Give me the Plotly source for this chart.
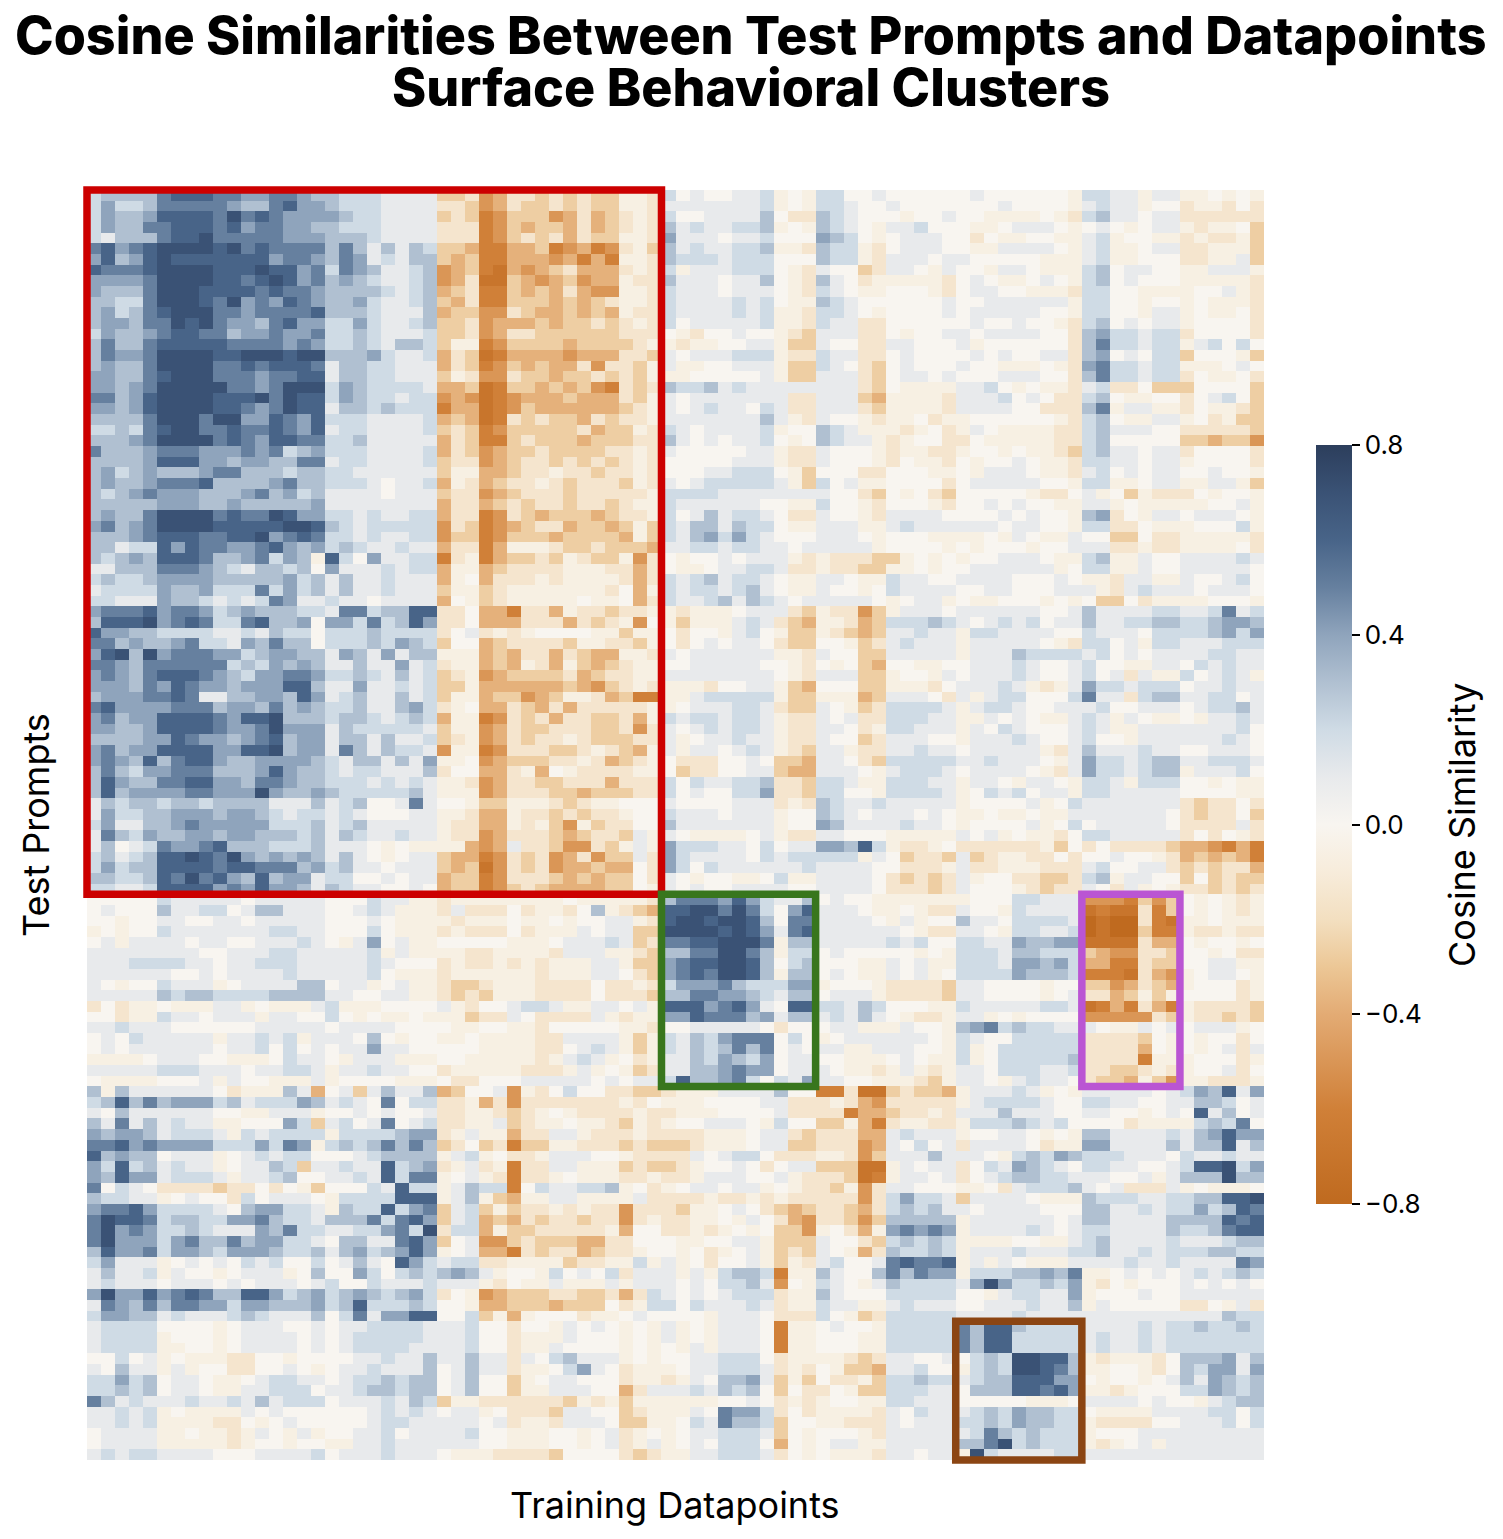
import plotly.graph_objects as go

# cell levels, one string per test prompt (row), one char per datapoint (column)
# digits 0-8 = positive, letters a-h = negative, see pos_levels / neg_levels
rows_top = [
    "23333 5666 55445543 32221111 ccb ed bbcbcbcc aab 20100112a0a 2200100000 01000000a 2211a11 aa0a0a",
    "24223 5555 54335644 32221111 bbc ed bccbcbcc aab 11111112a0a 2210010000 00010000a 1211a00 baab0b",
    "24334 6666 57565444 43221111 cbc fe cccedbdc bab 200111130bb 321000a001 00aaaa0ab 2311011 bbbbbb",
    "24335 5666 56455443 32221111 bbb fe cdccdbdc bab 31211223a0a 3210a11200 0aa01110a 010a011 abaa0c",
    "21333 5667 55555444 33321111 bbb fe cbcbdbcc aab 41110112000 4320a01110 0b0aa00aa 12a00aa babbac",
    "56456 7777 67565555 35313132 ccd ff ddcfedfe bac 31211223aab 322ab01110 0aa11110a 12aa011 bbaaac",
    "46346 7666 66664554 35412133 cdc ff dddedfdf aab 32221222000 322ab11101 100000aaa 12aa000 bbaa1c",
    "65556 7777 66676645 25431123 edc fg dedcbddd bab 2a1112220ab 100cb110a1 00a110aaa 2301100 aa111a",
    "44445 7777 66567645 34321123 edb gg cdedcedd abb 311101130ab 310baaaaab 010aa010a 2301000 aaaaab",
    "43335 7776 66656554 33332123 dcb ff cdcdbdee aab 211101110ab 210aa000ab 01100aaab 2200aaa a001ab",
    "33225 7776 57454654 33421123 cdb ff cccdcdcb aab 211112120aa 3210000001 00111111a 2200a00 a0aaab",
    "34235 6777 55455556 33321113 dcc ee bcddcdcd abb 21111212aab 2210a00001 01111100a 2200a11 a0aa0b",
    "34435 5767 54435644 22421123 ccb ed ddcdccbc bab 20111112aab 211bb00000 0100100ab 2301011 a0000b",
    "24334 5665 53445445 22321112 ccb ed bbcccccc bbb 0ab00100abc 111bb0a001 10111100b 3422122 b0000b",
    "35335 6666 65555454 22321332 caa fe ccccdccc cba abaa0011acc 100bb11000 1a000000b 3522122 a12020",
    "35445 7777 66777677 33342112 dbc gf ddddeddd bbc 10111222abb 211bb01000 01010011b 3401022 c000ac",
    "34335 7777 55656665 13322111 dbc fe cdcddbeb bca 1aa00111acc 210bc01000 100aaa0ab 4522122 aaa010",
    "44335 6777 55545566 13322111 cab ee bccdccbc bca aa000001acc 111bc01101 00011100b 3522122 b0aa0b",
    "44345 7777 75545777 24322221 ddc gf ccdcdcef bcb 32231211111 111bc0aaaa 1120a0aab 12bb0cc c0000c",
    "55346 7777 66675766 24322122 ede gf edddcddd bca 101111111bb 111cdaaaab 1112010bb 230aa00 b0120c",
    "44346 7777 66545766 13323222 fdd gf ecdddddd cba 101211021bb 111bcaaaab 111100bbb 35a11aa b0aabc",
    "33335 7775 77446546 22211112 dcd gf bcbccdbc bba 111111131ab 100abaa0ba a000000ab 230aa11 a0bacc",
    "22325 6775 56556546 12211112 cbc fe cccccbdc cab 21011112a00 321aaaba0b a10aaaabb 2311100 bbbbbc",
    "33345 7777 56546655 22311111 dbc ff cbcccdcc cbb 310101120a0 3211aba00b b0aaaaabb 2300000 ccdcce",
    "53334 5554 44545234 22211112 dbc ed ccbccccb bab 10000011abb 1000abaabb a00a0aabc 2311011 b0000b",
    "33334 6664 43443355 12211112 cbb ed cbbcbcbc bab 00000111abb 1000ab0aab 0a0010aab 2211011 a0000b",
    "34234 3334 55333233 22111111 caa dd cbbabbcb bab 000112220ac 000bb000aa 0a1110aab 1201011 00100a",
    "34334 5556 33334533 22210112 dab dc bbabcbbb cab 101222221ac 201aa0000b 01111100a 22aa011 aa11ac",
    "32345 4443 33453423 11110111 cbb ed cbbbcbbb bba 22221111111 100bc0a0bc 00000abb0 1a0cabb b0a00a",
    "33333 4443 34333334 11111111 dbb dc bcbbcbbc baa 211111100aa 200ab000ab 0010100aa 11a0aaa aa001a",
    "34335 7777 56557644 22121122 dbb fe bcdcccdc bba 201312210bb 100ab11110 00010100a 34b0a11 01110a",
    "45345 7777 66666776 32122222 ebc fe dcbbdccd cac 213313220aa 111aa12111 11101100a 22bb0aa a0002a",
    "33345 6665 56674565 22121122 ecc fe cccdcccc dac 21342421000 1110a000aa aa0a10aa1 00cc0bb aaaaab",
    "33122 6465 54456434 23211211 dbb fd aaabccbc ccd 11221221101 1111a0000a 0a000a001 11bbabb aaaa0b",
    "32343 6665 3345243a 62041122 fba fd ccbcabcc aeb 0a0010111ab abbbcca0a0 a001110aa 23aa100 111121",
    "11333 5554 32133230 41112122 daa dc bbbbaaab bdb 0aa011221bb abbccaa0a0 0111111a0 22aa100 111110",
    "23223 4444 33333423 13112111 da0 db bbabaaaa bdb 212312210aa 110aa21100 111100010 aab11aa 100120",
    "12222 4334 22252423 13112111 caa cb aaaaaaab 0da 212212310aa 100a021111 001100011 1ab1211 101110",
    "22111 4332 12125411 21101111 d0a cb aaaaa0aa 0db 21123132101 11110a011a 0aa000a0a 0cc0baa aa000a",
    "45556 4554 23433322 15523366 bb0 dd fbbdabbc bba abaaa0111bc abbeca1110 111111001 3111122 112512",
    "36667 4565 22563340 44252364 bb0 dd dbbbdbcb ae0 acaaa121bcd aabdc22232 101212011 3112233 223443",
    "64433 2222 11213220 22232222 b01 ba ba0000aa caa 0b00a120acc abcdc11211 a22111100 2111022 223424",
    "55343 3452 21435330 22232432 c00 dc bbbbcaab bca 0b010110bcc 00acb12111 a111110ab 2201a22 111222",
    "46737 4555 44234433 14314133 aaa dc dbbdbcdd aab 10111111aab 100cc11111 a11132222 1201011 112211",
    "55435 5555 52324343 11311412 baa dc dabdacdc baa 001111100ab 0a0cd00aa0 011121001 200aa11 021211",
    "45435 6665 43244554 22321312 cba ed ccccbdcb baa 111111110ab 111cca00a1 011121001 201b1aa 20121a",
    "44435 4654 43444663 11411212 cca dd ddddcdec bab aaab0011acd 000ccaaab0 11121aba1 4221222 011211",
    "34445 5651 13344364 12311312 caa dc cedcaabd cff aa122222acc aaadc1110b 1a1220002 511b233 112201",
    "56444 4555 34435343 22311342 ba0 dd bcdbdbbb bba a0111221bcc 10acb22221 a12210011 1200111 012231",
    "45344 6666 54667333 23321232 daa fe bcbdbbcc bda 21221221abb 101bb22211 aa1010aa1 21a10aa 0a1121",
    "44334 6666 54457444 13222221 caa ed bccbbbcc beb 10121221abb 110ba22111 a10210001 21aa111 111120",
    "33334 4654 43456344 13313112 cba ed bcbbabcc cbb 1a011211abb 100cb11100 a11121001 200a111 111210",
    "45344 6666 44667344 15313221 eaa fe bbbccbab cda 1a110121abc 11abb11211 011111ab1 3111211 001110",
    "45436 3566 43344443 21331314 aa0 ed cccbbabd cba 0bbb0010ccd 110bc22222 1121110a1 4221233 112221",
    "35324 4555 33346433 21221113 b00 dd bad0abbb baa 0cbb0011cdd 1110a12221 011110ab1 4221233 a11120",
    "36433 5566 44355433 22212121 aab ed bbccbbbd bbb 20211223bbc 221aa22211 a110a110a 221a222 00a0aa",
    "36344 4455 44474334 32222231 aaa ed bbbccdcc cbb 20100224bbc 2200a22221 a0212011a 2211111 0000aa",
    "13233 2332 33331113 12300151 00a cc aaabcbaa 000 10000111bab 3211211111 a00001a02 1111111 bcbb0b",
    "14223 3444 34432122 12100011 aab dd abbcbcbb a00 21110111a00 3210111010 aa0aa0aa1 1111110 bcbb0c",
    "24113 3454 44442223 12311111 abb dd abaceacb b00 31111111a00 4311112110 a00001a02 0111110 bbbb1b",
    "15324 3344 34433323 13211211 abb ed bbbcdcbb c1a 10aaaa01abb 11000aaaaa 101a0aab0 2211111 b0b0ab",
    "13012 5445 63332223 1110a0aa aad ed 1bbceebc a1a 42221102011 44362abba0 bbbbbbac0 b0bbbbc ddefdf",
    "23123 6676 57434343 1310a011 cdd fe bcbedbec c1b 42111102122 222a10cbbc 1cbaabb0b 00100ab dcdcdf",
    "24233 6666 56655534 23110111 cdc ge bcbeddcd d0b 42021111112 111100bbba 1bbaaabbb 120011b cbcbbd",
    "33223 6575 64363441 22001011 dcc fe bbbcdcdc c0b 10a00aa02aa 11110bcbcb 1a00bbccb 23a1100 c0cbcc",
    "22112 6666 45464431 32110010 dcc fe cbcddddc c0a 10100111100 11110bbbcb 1000abcbb 10b1a0a bbcbcb",
]

rows_mid = [
    "00000 2111 11011111 000211aa baa aa aaaa0aaa aab 35554642113 0100aaaaaa a00022111 eeefcec 0a0aba",
    "01000 3112 20133111 00121aaa b1b bb 0baab03a bcd 66775752046 1110aa0abb 100a21111 gfggbfc 0a0aba",
    "00a00 1100 11011111 00010aaa aba aa 0aa0a001 1ab 67767763055 11110a1a00 311022221 hghhbfg aa0aaa",
    "a0a00 2111 11112211 00020aaa bab bb 0baaa101 1cc 77776764156 1111110abb 110a22112 hghhcff abbabb",
    "01a11 1101 10011121 0a1401aa 000 00 aaa01112 1cb 55667775a33 1111121200 221143344 ggggbdd 0a00a0",
    "11111 1110 01112211 1112a1aa aab ba aaab111a abc 33557753a22 0100000a0a 222133222 cdeebbc 00a0bb",
    "11122 2211 01122211 11121000 bab ba babaaa11 acc 45667763023 000aa101aa 222144342 ddffbcc 0011aa",
    "11111 1001 01111211 11120aaa baa aa aabaaa11 0bc 45657763a33 010aa101a0 222243332 fffgbde a0110a",
    "10a00 2111 a0111133 011a01aa bcc ba aabbbb0b bab 24445322244 a000abbbbc 110000a00 ccedbcd a000ba",
    "11111 3233 22223333 110011aa bcb ca aabbbb0b bbc 33554432133 0111abbbbc 110000a01 bbdcaca 0000ba",
    "b0baa 0aaa 11a0aaa1 2aaa0000 1ab 00 1221aa11 01a 66645641066 2213200 0aa 211111221 gfdfbdf abbbbc",
    "00baa 2110 111a1100 20a0aa0a aac bb 10bbbb1a baa 44655534133 121310abba 11a0a0000 eeeeebc abbcbc",
    "11211 1000 00011111 01111000 0aa 00 aab00000 aab 00111110b00 011aaa100a 345232211 10aa101 0111a0",
    "01021 1111 a11212a1 11030a00 aa0 aa aabb1111 aca 21324555020 a01111110a 210022222 bbbbc0a 0a00b0",
    "01011 1111 01120201 01141100 000 aa aabb0121 aca 21323535010 11aa11100a 2a0222222 bbbbd0a 0a01b1",
    "aaaa0 1110 0aaa0211 0a111aaa 00a aa aaba121a 0ba 11324324011 00aaa010aa 2a0222223 bbbbfaa a000ba",
    "11111 2221 11011221 a1121100 baa aa abbba1a0 acb 11334544011 10aaba1aba 110222112 bbccbab a001b0",
    "0aaaa 0001 a100aaa1 a0000aaa 0bb 00 01111101 011 26334520214 1100aaabca 110a12110 bccdace aabbba",
]

rows_low = [
    "3a311 1111 0baaa31d 01c13113 dc0 01 eab0200b bcc baaa1111300 ffbggcbccd a11121a0a 1111101 243614",
    "23635 3444 23122243 12105022 bba db ebbbbbbb ab0 aaa000011bb babdebbbbb a12222100 2211001 133201",
    "10311 1111 00aa111a 00101001 bba ab cba0abbb bab baaa00001bb bbfddcbbab 111311100 1100a01 061301",
    "31513 1211 aa00042c 12015012 bba a1 cbaa0aab cab a001110a200 ccadfbaabb a22232120 000baaa a23250",
    "43443 1222 1a212222 a2222344 ba1 aa dbb11abb bab bbbaaa011bc bbbdd12111 a00110a0a 3311112 134644",
    "55645 4444 2224254a 23235353 cb0 cb fccaabbb cbc ccbaaa011cc bbbed10201 b11110baa 4411113 133613",
    "63433 0111 a0121220 00123333 a12 a0 bba11100 abb bb101220bbb aabec11131 110a23243 2221110 211211",
    "42623 1211 a01132c1 12116234 ba1 ba fbb11aaa cbc cba0010b011 cccgga1011 b02143210 2211001 266724",
    "43644 1222 1a112300 11216255 a01 ab fbba0aaa bba bba111001ab bbcgfa1101 b01233221 11001a1 333733",
    "50210 bbbb cbb0b0ac 00021622 a13 22 f0211223 a0b a011011a0ab bcaeb11000 aa0b12223 101bbb1 a0aaa0",
    "32211 a010 0b201110 a2222666 a13 ac daa11aaa a1b bbbabbababb bbbeb24221 c11110aaa 3222112 233667",
    "45564 2222 10344221 a3226245 c12 ca cbbababb ebb bcaa010bcdc bbcdb23231 101111000 3311212 242365",
    "57665 2332 24453221 33352564 c12 dc dbcbbcbb eba bbaa0a10bde bbcec33333 a11111101 3311113 333656",
    "57454 2232 11143522 11224527 b22 da ccbbbbba d00 bbaba0a0cce a0bda45454 a11112101 2211113 223566",
    "57444 2453 35344221 03311564 c01 ee cbcccddb b00 0aa0011accc 100bc23232 aaaa00aa1 2311112 111233",
    "36445 2443 24443223 13423464 a01 dd fbcbbdcb ba0 0a0ba01acbc 10adb32232 a11121112 2311212 223322",
    "24111 a010 10212002 01310642 122 bb aaaacbba a2a 1a0b001acab 1200156556 a1a10aaa1 1112112 111154",
    "13112 a100 a0111a03 00420232 343 1a 00a20102 b11 1a1a2332faa 3100353544 a22233435 aa01010 121232",
    "12111 0111 01011101 20021112 111 ab 0aa1aaa1 a11 10102231e0a 210a132222 147422324 ab0a000 101010",
    "47446 4565 33664234 23432342 b0a ed cccbbccb db2 10101222baa 3100022222 00a122114 a000100 111111",
    "15435 3554 42443334 23622232 00a dd cccdccc0 ba2 20211121baa 211aa12111 001112113 a100000 bb0a1b",
    "24433 1211 12321113 02514466 002 ca da000baa 010 000a1110bbb 20acb22222 111121111 1111111 111322",
    "12222 0000 a0111001 01122221 112 00 b00a1010 a0a 1a0a1110faa 0100a22222 536632222 1111212 232232",
    "12222 a000 a0111101 01222221 112 00 baaa1000 a0a 1a0a1110faa 000aa22222 536622222 1211212 222222",
    "12222 aa00 a0111101 01222211 112 00 baa10000 a0a 0a1a1110faa 000aa22222 536622222 1211212 222222",
    "00201 a0aa abb00a00 00112113 113 11 b1023111 a0a 00112220baa aabcb11001 023277663 abaaab0 333413",
    "10311 a1a0 0bb0010a 01121113 013 11 baa02410 baa a0112221bab 0accd11200 a23277653 aa00ab0 324414",
    "22423 0110 aa012211 01223233 013 00 ca011000 baa ba103341cac 0bbac22322 123366644 0a00a01 314323",
    "22323 0110 aa112220 11233233 013 00 caa11100 db1 11213230c0b b0acc22211 033366564 aaba000 224323",
    "53121 1121 12131222 01112132 caa bb bbbbcaba caa aaaa0010bab a00aa22111 00000aaa0 1111010 0a1233",
    "11212 a0aa aa101000 00012121 011 a0 bbbc1100 cba aa105442b0b aaaab10211 123243322 0aaaa11 112202",
    "11212 aaaa bb0a0100 00012211 111 01 baab1110 cca a0215332c00 aabbb10111 223243322 abbbb00 111202",
    "01111 aa0a aba10a1a 00112011 112 00 aaa00a01 ba0 a0112221c0a 000ab11111 125323222 a000111 111111",
    "01111 aaaa aba00a00 aa112111 111 00 aaa00a01 ba1 a0102220d0a 011aa11111 335723222 aba01a1 111111",
    "12122 1111 00011112 01112111 0aa ab bbbc0000 bcb aa112221b0a 0aaab11011 a72111122 1111111 111111",
]

pos_levels = [0.0, 0.1, 0.2, 0.3, 0.4, 0.5, 0.6, 0.7, 0.8]
neg_levels = [-0.06, -0.15, -0.27, -0.38, -0.5, -0.6, -0.7, -0.8]

# clusters: first/last column, first/last row, colour
cluster_cols = [(0, 41), (41, 52), (71, 78), (62, 71)]
cluster_rows = [(0, 66), (66, 84), (66, 84), (106, 119)]
cluster_colors = ["#cc0000", "#38761d", "#ba55d3", "#8b4513"]

title_lines = ["Cosine Similarities Between Test Prompts and Datapoints", "Surface Behavioral Clusters"]
cbar_ticks = [-0.8, -0.4, 0.0, 0.4, 0.8]

W, H = 1503, 1539
LEFT, RIGHT, TOP, BOTTOM = 87, 1264, 190, 1460


def level(ch):
    if ch.isdigit():
        return pos_levels[int(ch)]
    return neg_levels[ord(ch) - ord("a")]


rows = rows_top + rows_mid + rows_low
bad = [(i, len(r.replace(" ", ""))) for i, r in enumerate(rows) if len(r.replace(" ", "")) != 84]
if bad:
    raise ValueError(f"bad row lengths: {bad}")
z = [[level(c) for c in r.replace(" ", "")] for r in rows]
n_rows, n_cols = len(z), 84

colorscale = [
    [0.0, "#bf6a1f"],
    [0.125, "#d08038"],
    [0.25, "#e3ab74"],
    [0.3125, "#ecc796"],
    [0.375, "#f3dfc0"],
    [0.4375, "#f7ecdb"],
    [0.5, "#f8f5f0"],
    [0.5625, "#e8eaec"],
    [0.625, "#cfdbe5"],
    [0.6875, "#b0c0d1"],
    [0.75, "#8fa4bc"],
    [0.8125, "#66809f"],
    [0.875, "#486488"],
    [0.9375, "#3a5275"],
    [1.0, "#2c3e5c"],
]

fig = go.Figure(go.Heatmap(
    z=z,
    zmin=-0.8,
    zmax=0.8,
    colorscale=colorscale,
    colorbar=dict(
        thickness=36,
        thicknessmode="pixels",
        len=(1204 - 445) / H,
        lenmode="fraction",
        x=1316 / W,
        xanchor="left",
        xpad=0,
        y=1 - 445 / H,
        yanchor="top",
        ypad=0,
        outlinewidth=0,
        tickmode="array",
        tickvals=cbar_ticks,
        ticktext=["\u22120.8", "\u22120.4", "0.0", "0.4", "0.8"],
        ticks="outside",
        ticklen=8,
        tickwidth=2,
        tickcolor="black",
        tickfont=dict(family="Inter", size=26, color="black"),
    ),
))


# paper refs so the boxes are not clipped at the axes edge
def paper_x(col):
    return (LEFT + (RIGHT - LEFT) * col / n_cols) / W


def paper_y(row):
    return 1 - (TOP + (BOTTOM - TOP) * row / n_rows) / H


for cols, rws, color in zip(cluster_cols, cluster_rows, cluster_colors):
    fig.add_shape(type="rect", xref="paper", yref="paper",
                  x0=paper_x(cols[0]), x1=paper_x(cols[1]),
                  y0=paper_y(rws[0]), y1=paper_y(rws[1]),
                  line=dict(color=color, width=7.5))


def label(text, x, y, size, angle=0, weight=None):
    return dict(text=text, x=x / W, y=1 - y / H, xref="paper", yref="paper",
                xanchor="center", yanchor="middle", showarrow=False, textangle=angle,
                font=dict(family="Inter", size=size, color="black", weight=weight))


fig.update_layout(
    width=W,
    height=H,
    margin=dict(l=0, r=0, t=0, b=0),
    paper_bgcolor="white",
    plot_bgcolor="white",
    font=dict(family="Inter", color="black"),
    xaxis=dict(domain=[LEFT / W, RIGHT / W], range=[-0.5, n_cols - 0.5],
               showticklabels=False, ticks="", showgrid=False, zeroline=False),
    yaxis=dict(domain=[1 - BOTTOM / H, 1 - TOP / H], range=[n_rows - 0.5, -0.5],
               showticklabels=False, ticks="", showgrid=False, zeroline=False),
    annotations=[
        label(title_lines[0], 751, 35, 52, weight=800),
        label(title_lines[1], 751, 87, 52, weight=800),
        label("Training Datapoints", 675, 1505, 36),
        label("Test Prompts", 36, 825, 36, angle=-90),
        label("Cosine Similarity", 1462, 825, 36, angle=-90),
    ],
)

fig.write_html("out.html", config={"displayModeBar": False},
               post_script="document.body.style.margin='0';")
